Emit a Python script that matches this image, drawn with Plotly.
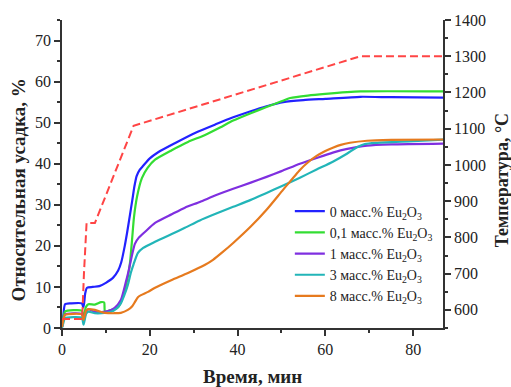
import plotly.graph_objects as go

# ---- data ----
t_blue = [0, 0.3, 0.7, 2, 4.5, 4.9, 5.3, 5.7, 7, 8.5, 10, 11.6, 12.8, 13.5, 14.3, 14.8, 15.4, 16, 16.5, 17, 17.7, 18.5, 20, 21.9, 25.7, 30.3, 35, 39, 43, 46.6, 50.4, 55, 60, 68, 75, 87]
v_blue = [0.3, 3, 5.8, 6, 6, 5, 8.5, 9.8, 10, 10.2, 11, 12.2, 14, 16, 20, 23, 27, 31, 34.5, 37, 38.5, 39.5, 41.3, 42.8, 45, 47.5, 49.6, 51.3, 52.8, 54, 55, 55.5, 55.8, 56.3, 56.2, 56.1]

t_green = [0, 0.3, 0.7, 4.5, 4.9, 5.4, 6, 7.5, 8.9, 9.6, 9.8, 11.2, 12.8, 13.5, 14.3, 15, 15.5, 16, 16.4, 17.1, 18.2, 19.5, 21.2, 25, 28.7, 32.6, 36, 39, 43, 46.6, 50, 52, 56, 60, 68, 87]
v_green = [0.2, 2.5, 4, 4.2, 2.2, 5, 5.8, 5.7, 6.3, 6.2, 4, 4.4, 5.1, 6.5, 9.3, 12.5, 16, 22, 27, 32, 36.5, 39, 41, 43.3, 45.3, 47, 48.8, 50.5, 52.3, 53.8, 55.2, 56, 56.6, 57, 57.6, 57.6]

t_purple = [0, 0.3, 0.7, 4.5, 4.9, 5.5, 6, 7.5, 9, 10.5, 12, 13.4, 14.5, 15.2, 15.7, 16.6, 17.5, 19, 21.2, 25, 28, 31.4, 35, 39, 43, 46.6, 50, 54.2, 58, 61.7, 65, 69.5, 75, 87]
v_purple = [0.2, 2, 3.3, 3.4, 1.5, 4, 4.6, 3.9, 3.9, 4.1, 4.9, 6.8, 11, 14, 16.5, 20.5, 22, 23.5, 25.6, 27.7, 29.3, 30.7, 32.3, 33.9, 35.4, 36.8, 38.2, 40, 41.4, 42.7, 43.6, 44.4, 44.7, 44.9]

t_cyan = [0, 0.3, 0.7, 4.5, 4.9, 5.5, 6, 7.5, 9, 11, 12.5, 13.4, 14.2, 15, 15.7, 16.3, 17.3, 18.5, 21.2, 25, 28, 31.4, 35, 39, 43, 46.6, 50, 54.2, 58, 61.7, 65, 67.2, 69, 71.8, 80, 87]
v_cyan = [0, 1.2, 2.4, 2.5, 0.8, 3.5, 4, 3.6, 3.6, 3.9, 4.8, 6, 8, 10.5, 13.5, 15.5, 18.3, 19.5, 21, 22.9, 24.4, 26.2, 27.8, 29.5, 31.2, 32.9, 34.5, 36.6, 38.6, 40.5, 42.5, 44, 44.8, 45.1, 45.5, 45.9]

t_orange = [0, 0.3, 0.7, 4.5, 4.9, 5.5, 6, 7.5, 9.8, 12, 13.4, 15, 16, 16.6, 17.3, 18, 19.6, 21.2, 25, 28.7, 32.6, 34.4, 36.5, 39, 43, 46.6, 50.4, 54.2, 56, 58, 60, 61.7, 63.5, 65.6, 69.5, 75, 87]
v_orange = [0.2, 2, 3.2, 3.3, 2, 4.2, 4.6, 4.4, 3.7, 3.6, 3.7, 4.4, 5.3, 6.3, 7.5, 8, 8.8, 9.8, 11.7, 13.4, 15.4, 16.6, 18.4, 20.7, 24.7, 28.8, 33.7, 38.5, 40.3, 41.9, 43.1, 43.9, 44.6, 45.1, 45.6, 45.8, 45.9]

t_temp = [0, 4.6, 5.0, 5.6, 7.5, 16.3, 68, 87]
v_temp = [575, 575, 700, 840, 840, 1108, 1300, 1300]

names = ["0 масс.% Eu<sub>2</sub>O<sub>3</sub>",
         "0,1 масс.% Eu<sub>2</sub>O<sub>3</sub>",
         "1 масс.% Eu<sub>2</sub>O<sub>3</sub>",
         "3 масс.% Eu<sub>2</sub>O<sub>3</sub>",
         "8 масс.% Eu<sub>2</sub>O<sub>3</sub>"]
colors = ["#2222ff", "#33dd33", "#7f2fe0", "#22b5b8", "#e67a1e"]
series = [(t_blue, v_blue), (t_green, v_green), (t_purple, v_purple), (t_cyan, v_cyan), (t_orange, v_orange)]

FONT = "Liberation Serif, Times New Roman, serif"

fig = go.Figure()
fig.add_trace(go.Scatter(x=t_temp, y=v_temp, yaxis="y2", mode="lines",
                         line=dict(color="#ff4545", width=2, dash="8px,4px"),
                         showlegend=False))
for (tx, vy), nm, c in zip(series, names, colors):
    fig.add_trace(go.Scatter(x=tx, y=vy, mode="lines", name=nm,
                             line=dict(color=c, width=2.2, shape="spline", smoothing=0.6)))

axis_common = dict(showline=True, linecolor="#333", linewidth=1.5, ticks="outside",
                   ticklen=6, tickwidth=1.5, tickcolor="#333", showgrid=False, zeroline=False,
                   tickfont=dict(family=FONT, size=16, color="#222"))

fig.update_layout(
    width=511, height=387,
    margin=dict(l=62, r=68, t=20, b=59),
    plot_bgcolor="white", paper_bgcolor="white",
    font=dict(family=FONT, color="#222"),
    xaxis=dict(range=[0, 86.8], dtick=20, tick0=0,
               minor=dict(dtick=10, ticklen=3, tickcolor="#333", ticks="outside"),
               **axis_common),
    yaxis=dict(range=[0, 75], dtick=10, tick0=0,
               minor=dict(dtick=5, ticklen=3, tickcolor="#333", ticks="outside"),
               **axis_common),
    yaxis2=dict(range=[550, 1400], dtick=100, tick0=600, overlaying="y", side="right",
                minor=dict(dtick=50, ticklen=3, tickcolor="#333", ticks="outside"),
                **axis_common),
    legend=dict(x=0.598, y=0.43, xanchor="left", yanchor="top",
                bgcolor="rgba(0,0,0,0)", font=dict(family=FONT, size=14, color="#222"),
                itemwidth=30, tracegroupgap=0),
    annotations=[
        dict(text="<b>Относительная усадка, %</b>", xref="paper", yref="paper",
             x=-0.1155, y=0.45, xanchor="center", yanchor="middle", textangle=-90,
             showarrow=False, font=dict(family=FONT, size=19, color="#222")),
        dict(text="<b>Температура, °C</b>", xref="paper", yref="paper",
             x=1.155, y=0.48, xanchor="center", yanchor="middle", textangle=-90,
             showarrow=False, font=dict(family=FONT, size=18, color="#222")),
        dict(text="<b>Время, мин</b>", xref="paper", yref="paper",
             x=0.501, y=-0.159, xanchor="center", yanchor="middle",
             showarrow=False, font=dict(family=FONT, size=19, color="#222")),
    ],
)

# remove the default page margin and scrollbars so the 511x387 figure fills the window
fig.write_html("out.html", config={"displayModeBar": False},
               post_script="document.body.style.margin='0';document.body.style.overflow='hidden';")
